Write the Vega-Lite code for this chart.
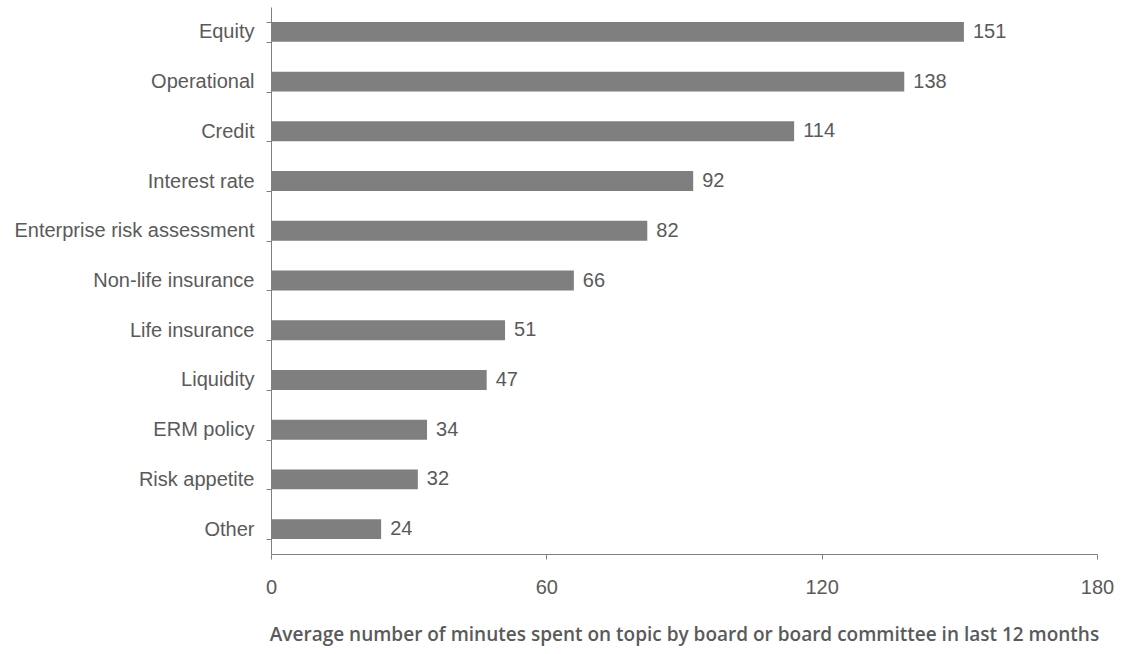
{
  "$schema": "https://vega.github.io/schema/vega-lite/v6.json",
  "width": 826,
  "height": 547,
  "autosize": {"type": "none"},
  "padding": {"left": 271, "top": 7, "right": 24, "bottom": 100},
  "background": "white",
  "data": {
    "values": [
      {"topic": "Equity", "minutes": 151},
      {"topic": "Operational", "minutes": 138},
      {"topic": "Credit", "minutes": 114},
      {"topic": "Interest rate", "minutes": 92},
      {"topic": "Enterprise risk assessment", "minutes": 82},
      {"topic": "Non-life insurance ", "minutes": 66},
      {"topic": "Life insurance", "minutes": 51},
      {"topic": "Liquidity", "minutes": 47},
      {"topic": "ERM policy", "minutes": 34},
      {"topic": "Risk appetite", "minutes": 32},
      {"topic": "Other", "minutes": 24}
    ]
  },
  "encoding": {
    "y": {
      "field": "topic",
      "type": "nominal",
      "sort": null,
      "scale": {"paddingInner": 0.6, "paddingOuter": 0.3},
      "axis": {
        "title": null,
        "tickBand": "extent",
        "tickSize": 5,
        "tickColor": "#7f7f7f",
        "domainColor": "#7f7f7f",
        "labelPadding": 12,
        "labelLimit": 0,
        "labelFont": "Liberation Sans",
        "labelFontSize": 20,
        "labelColor": "#5a5a5a",
        "grid": false
      }
    },
    "x": {
      "field": "minutes",
      "type": "quantitative",
      "scale": {"domain": [0, 180], "nice": false},
      "axis": {
        "values": [0, 60, 120, 180],
        "title": "Average number of minutes spent on topic by board or board committee in last 12 months",
        "titleFont": "Open Sans",
        "titleFontSize": 19,
        "titleFontWeight": 600,
        "titleColor": "#5a5a5a",
        "titlePadding": 28,
        "tickSize": 5,
        "tickColor": "#7f7f7f",
        "domainColor": "#7f7f7f",
        "labelPadding": 18,
        "labelFlush": false,
        "labelFont": "Liberation Sans",
        "labelFontSize": 20,
        "labelColor": "#5a5a5a",
        "grid": false
      }
    }
  },
  "layer": [
    {"mark": {"type": "bar", "color": "#7f7f7f"}},
    {
      "mark": {"type": "text", "align": "left", "dx": 9, "font": "Liberation Sans", "fontSize": 20, "color": "#5a5a5a"},
      "encoding": {"text": {"field": "minutes", "type": "quantitative"}}
    }
  ],
  "config": {"view": {"stroke": null}}
}
